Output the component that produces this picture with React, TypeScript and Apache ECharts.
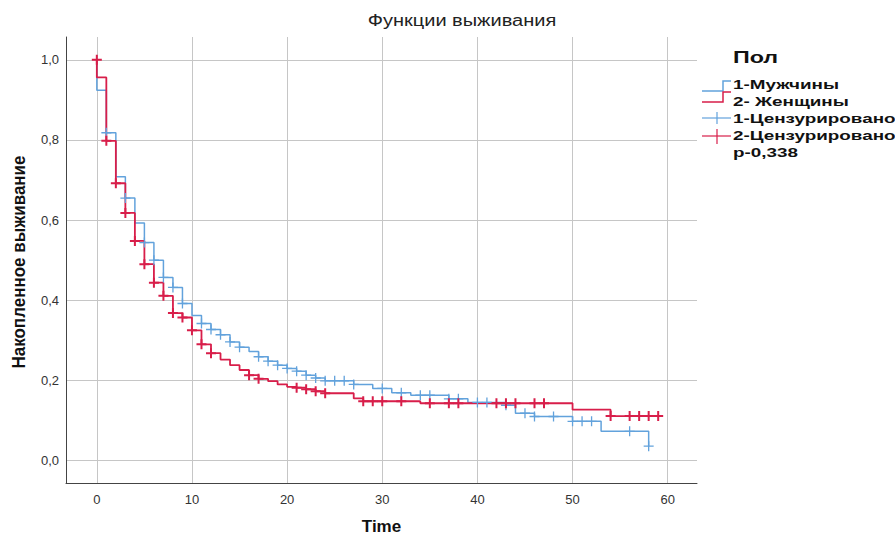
import React, { useEffect, useRef } from "react";
import * as echarts from "echarts";

// ---- Data ----
const X_TICKS = [0, 10, 20, 30, 40, 50, 60];
const Y_TICKS = [0, 0.2, 0.4, 0.6, 0.8, 1.0];

// 1-Мужчины: event times and survival level after each step
const menEventTimes = [0, 1, 2, 3, 4, 5, 6, 7, 8, 9, 10, 11, 12, 13, 14, 15, 16, 17, 18, 19, 20, 21, 22, 23, 24, 27, 29, 31, 33, 37, 39, 43, 44, 46, 50, 53, 58];
const menSurvival = [0.924, 0.818, 0.708, 0.655, 0.593, 0.544, 0.5, 0.457, 0.432, 0.392, 0.362, 0.342, 0.327, 0.314, 0.296, 0.283, 0.272, 0.259, 0.248, 0.238, 0.23, 0.223, 0.213, 0.206, 0.199, 0.19, 0.18, 0.169, 0.163, 0.154, 0.145, 0.138, 0.118, 0.11, 0.098, 0.073, 0.036];
const menEndTime = 58;
const menCensorTimes = [1, 3, 5, 6, 7, 8, 9, 11, 12, 13, 14, 15, 17, 18, 19, 20, 21, 22, 23, 24, 25, 26, 27, 30, 32, 34, 35, 37, 38, 40, 41, 43, 45, 46, 48, 50, 51, 52, 56, 58];
const menCensorValues = [0.818, 0.655, 0.544, 0.5, 0.457, 0.432, 0.392, 0.342, 0.327, 0.314, 0.296, 0.283, 0.259, 0.248, 0.238, 0.23, 0.223, 0.213, 0.206, 0.199, 0.199, 0.199, 0.19, 0.18, 0.169, 0.163, 0.163, 0.154, 0.154, 0.145, 0.145, 0.138, 0.118, 0.11, 0.11, 0.098, 0.098, 0.098, 0.073, 0.036];

// 2- Женщины
const womenEventTimes = [0, 1, 2, 3, 4, 5, 6, 7, 8, 9, 10, 11, 12, 13, 14, 15, 16, 17, 18, 19, 20, 21, 22, 23, 24, 27, 28, 34, 50, 54];
const womenSurvival = [0.956, 0.798, 0.692, 0.618, 0.548, 0.49, 0.444, 0.411, 0.368, 0.357, 0.325, 0.29, 0.268, 0.252, 0.238, 0.226, 0.213, 0.204, 0.198, 0.19, 0.184, 0.182, 0.178, 0.173, 0.168, 0.155, 0.148, 0.143, 0.127, 0.111];
const womenEndTime = 59;
const womenCensorTimes = [0, 1, 2, 3, 4, 5, 6, 7, 8, 9, 10, 11, 12, 16, 17, 21, 22, 23, 24, 28, 29, 30, 32, 35, 37, 38, 42, 43, 44, 46, 47, 54, 56, 57, 58, 59];
const womenCensorValues = [1.0, 0.798, 0.692, 0.618, 0.548, 0.49, 0.444, 0.411, 0.368, 0.357, 0.325, 0.29, 0.268, 0.213, 0.204, 0.182, 0.178, 0.173, 0.168, 0.148, 0.148, 0.148, 0.148, 0.143, 0.143, 0.143, 0.143, 0.143, 0.143, 0.143, 0.143, 0.111, 0.111, 0.111, 0.111, 0.111];

const LEGEND_TITLE = "Пол";
const LEGEND_LABELS = ["1-Мужчины", "2- Женщины", "1-Цензурировано", "2-Цензурировано", "р-0,338"];

const BLUE = "#62a2dc";
const RED = "#d81e4a";

function stepPoints(times: number[], vals: number[], end: number) {
  const pts: number[][] = [[0, 1]];
  times.forEach((t, i) => pts.push([t, vals[i]]));
  pts.push([end, vals[vals.length - 1]]);
  return pts;
}

const PLUS_THICK = "path://M4,0H6V4H10V6H6V10H4V6H0V4H4Z";
const PLUS_THIN = "path://M4.35,0H5.65V4.35H10V5.65H5.65V10H4.35V5.65H0V4.35H4.35Z";

export default function App() {
  const ref = useRef<HTMLDivElement>(null);

  useEffect(() => {
    if (!ref.current) return;
    const chart = echarts.init(ref.current, undefined, { renderer: "svg" });

    const labelFont = { color: "#333", fontFamily: "Liberation Sans", fontSize: 13 };
    const legendTextStyle = (y: number, text: string) => ({
      type: "text",
      x: 733,
      y,
      scaleX: 1.45,
      style: {
        text,
        font: 'bold 13px "Liberation Sans"',
        fill: "#111",
        textAlign: "left",
        textVerticalAlign: "middle",
      },
    });

    const option: any = {
      animation: false,
      backgroundColor: "#ffffff",
      grid: { left: 66, top: 37, right: 198, bottom: 53, containLabel: false, outerBoundsMode: "none" },
      xAxis: {
        type: "value",
        min: -3.24,
        max: 63.08,
        axisLine: { show: true, onZero: false, lineStyle: { color: "#444", width: 1 } },
        axisTick: { show: false, customValues: X_TICKS },
        axisLabel: { ...labelFont, customValues: X_TICKS, margin: 10 },
        splitLine: { show: true, lineStyle: { color: "#c6c6c6", width: 1 } },
        name: "Time",
        nameLocation: "middle",
        nameGap: 35,
        nameTextStyle: { color: "#111", fontFamily: "Liberation Sans", fontWeight: "bold", fontSize: 17 },
      },
      yAxis: {
        type: "value",
        min: -0.056,
        max: 1.057,
        axisLine: { show: true, onZero: false, lineStyle: { color: "#444", width: 1 } },
        axisTick: { show: false, customValues: Y_TICKS },
        axisLabel: {
          ...labelFont,
          customValues: Y_TICKS,
          margin: 7,
          formatter: (v: number) => v.toFixed(1).replace(".", ","),
        },
        splitLine: { show: true, lineStyle: { color: "#c6c6c6", width: 1 } },
      },
      series: [
        {
          name: LEGEND_LABELS[0],
          type: "line",
          step: "end",
          symbol: "none",
          data: stepPoints(menEventTimes, menSurvival, menEndTime),
          lineStyle: { color: BLUE, width: 1.5 },
          z: 2,
        },
        {
          name: LEGEND_LABELS[1],
          type: "line",
          step: "end",
          symbol: "none",
          data: stepPoints(womenEventTimes, womenSurvival, womenEndTime),
          lineStyle: { color: RED, width: 1.8 },
          z: 3,
        },
        {
          name: LEGEND_LABELS[2],
          type: "scatter",
          symbol: PLUS_THIN,
          symbolSize: 10,
          itemStyle: { color: BLUE, opacity: 1 },
          data: menCensorTimes.map((t, i) => [t, menCensorValues[i]]),
          z: 4,
        },
        {
          name: LEGEND_LABELS[3],
          type: "scatter",
          symbol: PLUS_THICK,
          symbolSize: 10,
          itemStyle: { color: RED, opacity: 1 },
          data: womenCensorTimes.map((t, i) => [t, womenCensorValues[i]]),
          z: 5,
        },
      ],
      graphic: [
        {
          type: "text",
          x: 462,
          y: 21,
          scaleX: 1.25,
          style: {
            text: "Функции выживания",
            font: '16px "Liberation Sans"',
            fill: "#222",
            textAlign: "center",
            textVerticalAlign: "middle",
          },
        },
        {
          type: "text",
          x: 19,
          y: 262,
          rotation: Math.PI / 2,
          scaleY: 1.1,
          style: {
            text: "Накопленное выживание",
            font: 'bold 17px "Liberation Sans"',
            fill: "#111",
            textAlign: "center",
            textVerticalAlign: "middle",
          },
        },
        {
          type: "text",
          x: 733,
          y: 57,
          scaleX: 1.37,
          style: {
            text: LEGEND_TITLE,
            font: 'bold 17px "Liberation Sans"',
            fill: "#111",
            textAlign: "left",
            textVerticalAlign: "middle",
          },
        },
        {
          type: "polyline",
          shape: { points: [[702, 91], [723, 91], [723, 81], [731, 81]] },
          style: { stroke: BLUE, lineWidth: 1.5, fill: null },
        },
        {
          type: "polyline",
          shape: { points: [[702, 102], [723, 102], [723, 92], [731, 92]] },
          style: { stroke: RED, lineWidth: 1.5, fill: null },
        },
        { type: "line", shape: { x1: 702, y1: 118, x2: 731, y2: 118 }, style: { stroke: BLUE, lineWidth: 1.2 } },
        { type: "line", shape: { x1: 717, y1: 112, x2: 717, y2: 124 }, style: { stroke: BLUE, lineWidth: 1.2 } },
        { type: "line", shape: { x1: 702, y1: 136, x2: 731, y2: 136 }, style: { stroke: RED, lineWidth: 1.2 } },
        { type: "line", shape: { x1: 717, y1: 129, x2: 717, y2: 144 }, style: { stroke: RED, lineWidth: 1.2 } },
        ...LEGEND_LABELS.map((t, i) => legendTextStyle(84.5 + 17 * i, t)),
      ],
    };

    chart.setOption(option);
    return () => chart.dispose();
  }, []);

  return (
    <div
      ref={ref}
      style={{ position: "absolute", left: 0, top: 0, width: 895, height: 536 }}
    />
  );
}
